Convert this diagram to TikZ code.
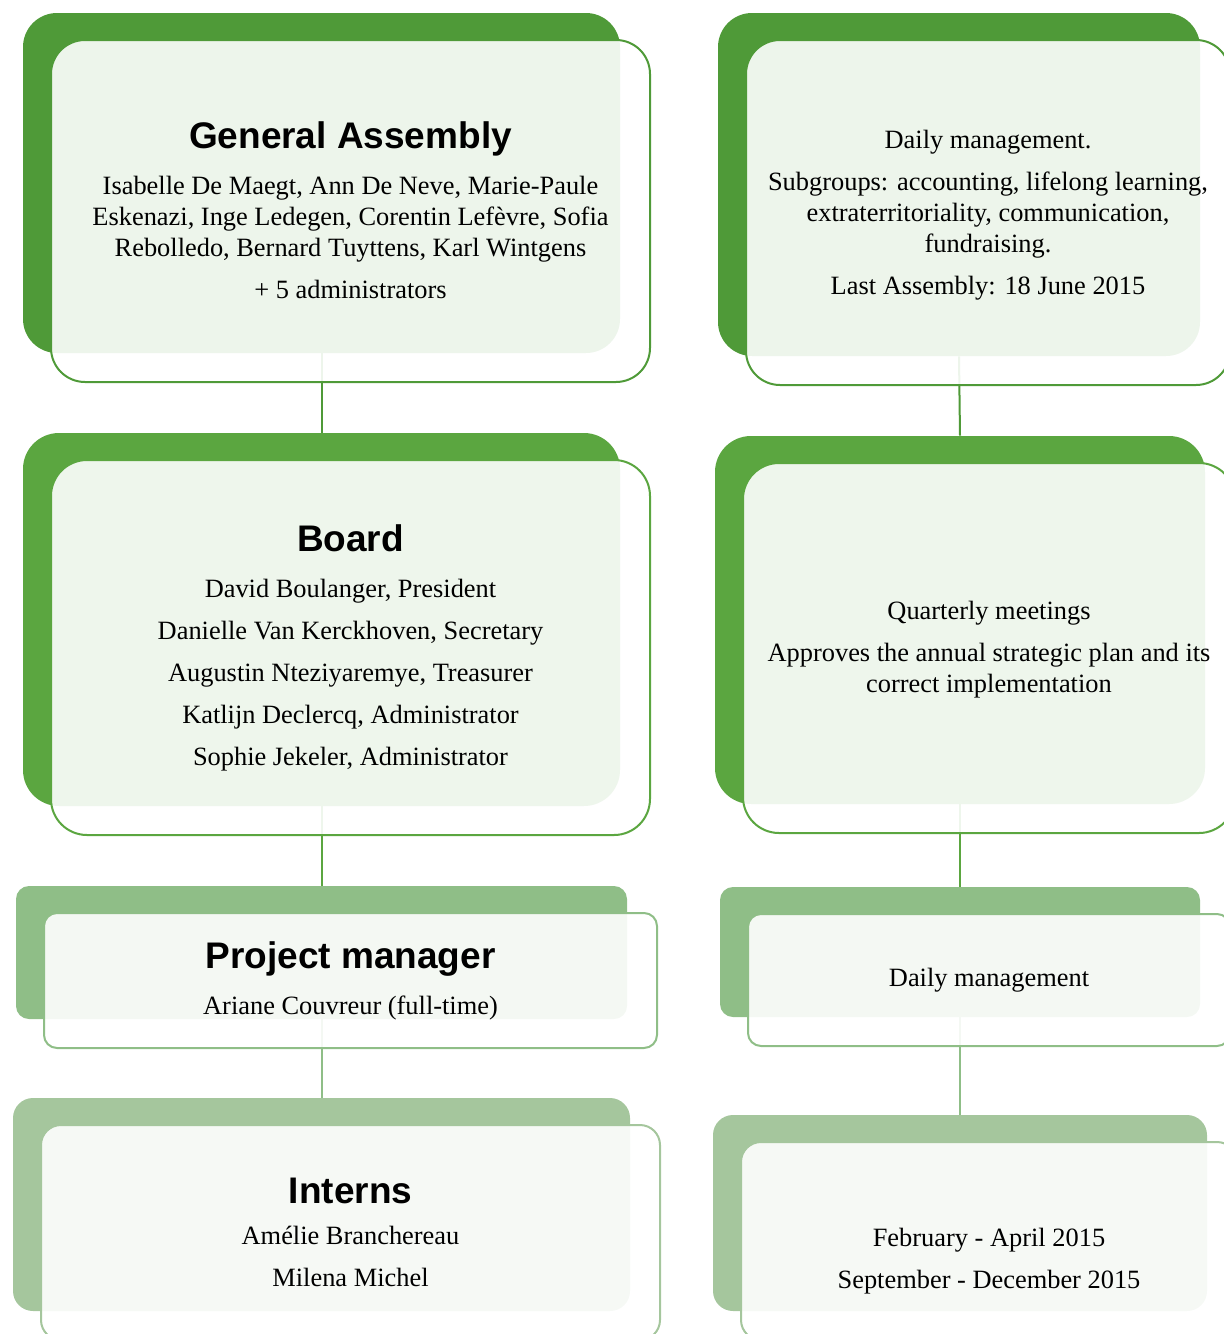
\documentclass[tikz,border=0pt]{standalone}
\usepackage{fontspec}
\setmainfont{Liberation Serif}
\newfontfamily\headfont{Liberation Sans}

\definecolor{gadark}{HTML}{4F9A38}
\definecolor{gamid}{HTML}{5BA640}
\definecolor{galight}{HTML}{8FBE87}
\definecolor{gapale}{HTML}{A5C69D}

\tikzset{
    backbox/.style={draw=none, inner sep=0pt},
    frontbox/.style={line width=1pt, fill=white, fill opacity=0.9, inner sep=0pt},
    boxtext/.style={align=center, text=black, font=\fontsize{13.2}{15.5}\selectfont},
    link/.style={line width=1pt},
}
\newcommand{\boxtitle}[1]{{\headfont\bfseries\fontsize{18.5}{21}\selectfont #1}}

\begin{document}
\begin{tikzpicture}[x=0.5pt, y=-0.5pt]
    \useasboundingbox (0,0) rectangle (1224,1334);

    % Fondi, colonna sinistra
    \node[backbox, fill=gadark, minimum width=298.5pt, minimum height=170pt, rounded corners=17pt] (ga) at (321.5,183) {};
    \node[backbox, fill=gamid, minimum width=298.5pt, minimum height=186.5pt, rounded corners=18pt] (board) at (321.5,619.5) {};
    \node[backbox, fill=galight, minimum width=305.5pt, minimum height=66.5pt, rounded corners=6.5pt] (pm) at (321.5,952.5) {};
    \node[backbox, fill=gapale, minimum width=308.5pt, minimum height=106.5pt, rounded corners=10pt] (interns) at (321.5,1204.5) {};

    % Fondi, colonna destra
    \node[backbox, fill=gadark, minimum width=241pt, minimum height=171.5pt, rounded corners=17pt] (daily) at (959,184.5) {};
    \node[backbox, fill=gamid, minimum width=245pt, minimum height=184pt, rounded corners=18pt] (meetings) at (960,620) {};
    \node[backbox, fill=galight, minimum width=240pt, minimum height=65pt, rounded corners=6.5pt] (mgmt) at (960,952) {};
    \node[backbox, fill=gapale, minimum width=247pt, minimum height=98pt, rounded corners=10pt] (period) at (960,1213) {};

    % Collegamenti
    \draw[link, gadark] (ga.south) -- (board.north);
    \draw[link, gamid] (board.south) -- (pm.north);
    \draw[link, galight] (pm.south) -- (interns.north);
    \draw[link, gadark] (daily.south) -- (meetings.north);
    \draw[link, gamid] (meetings.south) -- (mgmt.north);
    \draw[link, galight] (mgmt.south) -- (period.north);

    % Riquadri chiari sopra
    \node[frontbox, draw=gadark, minimum width=299.5pt, minimum height=171pt, rounded corners=17pt] (ga-f) at ([shift={(29,28)}]ga.center) {};
    \node[frontbox, draw=gamid, minimum width=299.5pt, minimum height=187.5pt, rounded corners=18pt] (board-f) at ([shift={(29,28)}]board.center) {};
    \node[frontbox, draw=galight, minimum width=306.5pt, minimum height=67.5pt, rounded corners=6.5pt] (pm-f) at ([shift={(29,28)}]pm.center) {};
    \node[frontbox, draw=gapale, minimum width=309.5pt, minimum height=107.5pt, rounded corners=10pt] (interns-f) at ([shift={(29,28)}]interns.center) {};
    \node[frontbox, draw=gadark, minimum width=242pt, minimum height=172.5pt, rounded corners=17pt] (daily-f) at ([shift={(29,28)}]daily.center) {};
    \node[frontbox, draw=gamid, minimum width=246pt, minimum height=185pt, rounded corners=18pt] (meetings-f) at ([shift={(29,28)}]meetings.center) {};
    \node[frontbox, draw=galight, minimum width=241pt, minimum height=66pt, rounded corners=6.5pt] (mgmt-f) at ([shift={(29,28)}]mgmt.center) {};
    \node[frontbox, draw=gapale, minimum width=248pt, minimum height=99pt, rounded corners=10pt] (period-f) at ([shift={(29,28)}]period.center) {};

    % Testi
    \node[boxtext] (ga-t) at ([yshift=0.5pt]ga-f.center) {\boxtitle{General Assembly}\\[7.5pt]
        Isabelle De Maegt, Ann De Neve, Marie-Paule\\
        Eskenazi, Inge Ledegen, Corentin Lefèvre, Sofia\\
        Rebolledo, Bernard Tuyttens, Karl Wintgens\\[5.5pt]
        + 5 administrators};
    \node[boxtext] (board-t) at (board-f) {\boxtitle{Board}\\[7.5pt]
        David Boulanger, President\\[5.5pt]
        Danielle Van Kerckhoven, Secretary\\[5.5pt]
        Augustin Nteziyaremye, Treasurer\\[5.5pt]
        Katlijn Declercq, Administrator\\[5.5pt]
        Sophie Jekeler, Administrator};
    \node[boxtext] (pm-t) at (pm-f) {\boxtitle{Project manager}\\[7.5pt]
        Ariane Couvreur (full-time)};
    \node[boxtext] (interns-t) at (interns-f) {\boxtitle{Interns}\\[5pt]
        Amélie Branchereau\\[5.5pt]
        Milena Michel};
    \node[boxtext] (daily-t) at ([yshift=-1.5pt]daily-f.center) {Daily management.\\[5.5pt]
        Subgroups: accounting, lifelong learning,\\
        extraterritoriality, communication,\\
        fundraising.\\[5.5pt]
        Last Assembly: 18 June 2015};
    \node[boxtext] (meetings-t) at ([yshift=-1pt]meetings-f.center) {Quarterly meetings\\[5.5pt]
        Approves the annual strategic plan and its\\
        correct implementation};
    \node[boxtext] (mgmt-t) at (mgmt-f) {Daily management};
    \node[boxtext] (period-t) at ([yshift=-10pt]period-f.center) {February - April 2015\\[5.5pt]
        September - December 2015};

\end{tikzpicture}
\end{document}
